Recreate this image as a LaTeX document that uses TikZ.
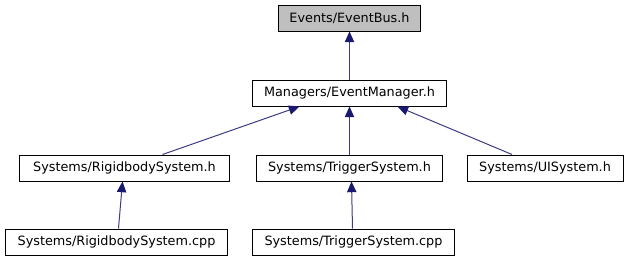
\documentclass[tikz,border=0pt]{standalone}
\usepackage{fontspec}
\setmainfont{DejaVu Sans}
\usepackage{tikz}
\usetikzlibrary{arrows.meta,positioning,calc}

\definecolor{edgeblue}{HTML}{191970}
\definecolor{rootgray}{HTML}{BFBFBF}

\begin{document}
\begin{tikzpicture}[x=0.75pt,y=-0.75pt,
	file/.style={draw=black, line width=0.75pt, rectangle, inner sep=0pt,
		minimum height=19.5pt, font=\fontsize{9.6}{11}\selectfont},
	dep/.style={draw=edgeblue!85!white, line width=0.75pt,
		-{Triangle[length=8pt,width=7pt,color=edgeblue]}}]

	\useasboundingbox (0,0) rectangle (630,261);

	% Root
	\node[file, fill=rootgray, minimum width=107pt] (bus) at (349.5,18) {Events/EventBus.h};

	% Managers
	\node[file, minimum width=145pt] (mgr) at (349.5,93) {Managers/EventManager.h};

	% Systems headers
	\node[file, minimum width=157pt] (rbh) at (124.5,168) {Systems/RigidbodySystem.h};
	\node[file, minimum width=140pt] (trh) at (349.5,168) {Systems/TriggerSystem.h};
	\node[file, minimum width=117pt] (uih) at (545,168) {Systems/UISystem.h};

	% Systems sources
	\node[file, minimum width=167pt] (rbc) at (116.5,242) {Systems/RigidbodySystem.cpp};
	\node[file, minimum width=152pt] (trc) at (353.5,242) {Systems/TriggerSystem.cpp};

	% Includes
	\draw[dep] (mgr.north) -- (bus.south);
	\draw[dep] ($(rbh.north)+(38,0)$) -- ($(mgr.south)+(-50,0)$);
	\draw[dep] (trh.north) -- (mgr.south);
	\draw[dep] ($(uih.north)+(-33,0)$) -- ($(mgr.south)+(48,0)$);
	\draw[dep] ($(rbc.north)+(2,0)$) -- ($(rbh.south)+(-2,0)$);
	\draw[dep] ($(trc.north)+(-1,0)$) -- ($(trh.south)+(2,0)$);
\end{tikzpicture}
\end{document}
